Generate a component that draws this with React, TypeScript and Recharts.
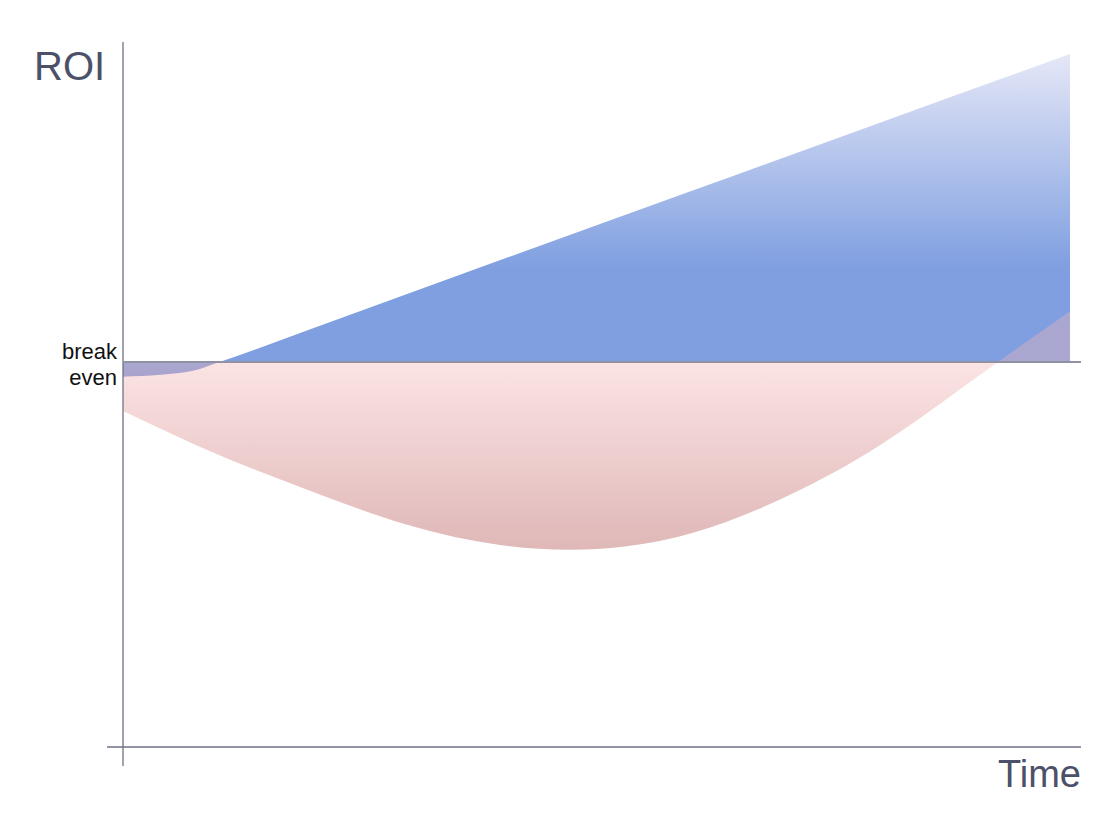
import React from "react";
import { ComposedChart, Area, XAxis, YAxis, ReferenceLine } from "recharts";

// ROI curve of the gain (blue) and of the cost (pink), break even = 0
const gainTime = [0, 4, 7.4, 10.2, 20, 40, 60, 80, 100];
const gainRoi = [-3.8, -3.3, -2.3, 0, 8.7, 26.6, 44.4, 62.2, 80];

const costTime = [0, 10, 20, 30, 40, 50, 60, 70, 80, 90, 100];
const costRoi = [-12.7, -24, -33.7, -42.3, -47.6, -48.6, -44.5, -35, -21.5, -4.2, 13.2];

const gainData = gainTime.map((t, i) => ({ t, roi: gainRoi[i] }));
const costData = costTime.map((t, i) => ({ t, roi: costRoi[i] }));

const X_DOMAIN = [-1.69, 101.16];
const Y_DOMAIN = [-104.94, 83.12];
const AXIS = "#6e7284";
const TITLE = "#4b5169";

const App = () => {
  return (
    <div style={{ position: "absolute", left: 0, top: 0, width: 1118, height: 838, background: "#fff" }}>
      <ComposedChart
        width={1118}
        height={838}
        margin={{ top: 42, right: 37, bottom: 72, left: 107 }}
      >
        <defs>
          <linearGradient id="gainFill" gradientUnits="userSpaceOnUse" x1="0" y1="52" x2="0" y2="268">
            <stop offset="0" stopColor="#e6e8f7" />
            <stop offset="1" stopColor="#7f9fe0" />
          </linearGradient>
          <linearGradient id="costFill" gradientUnits="userSpaceOnUse" x1="0" y1="362" x2="0" y2="551">
            <stop offset="0" stopColor="#f6b4b4" stopOpacity={0.36} />
            <stop offset="1" stopColor="#a63737" stopOpacity={0.36} />
          </linearGradient>
        </defs>
        <XAxis type="number" dataKey="t" domain={X_DOMAIN} hide allowDataOverflow />
        <YAxis type="number" domain={Y_DOMAIN} hide allowDataOverflow />
        <Area
          data={gainData}
          dataKey="roi"
          type="monotone"
          baseValue={0}
          stroke="none"
          fill="url(#gainFill)"
          fillOpacity={1}
          isAnimationActive={false}
        />
        <Area
          data={costData}
          dataKey="roi"
          type="natural"
          baseValue={0}
          stroke="none"
          fill="url(#costFill)"
          fillOpacity={1}
          isAnimationActive={false}
        />
        <ReferenceLine x={0} stroke={AXIS} strokeWidth={1.3} />
        <ReferenceLine y={-100} stroke={AXIS} strokeWidth={1.3} />
        <ReferenceLine
          segment={[{ x: 0, y: 0 }, { x: X_DOMAIN[1], y: 0 }]}
          stroke="#8e92a3"
          strokeWidth={2}
        />
      </ComposedChart>
      <svg
        width={1118}
        height={838}
        style={{ position: "absolute", left: 0, top: 0, pointerEvents: "none" }}
      >
        <text x={34} y={80} fontSize={40} fontFamily="'Liberation Sans', sans-serif" fill={TITLE}>
          ROI
        </text>
        <text x={1081} y={787} fontSize={38} fontFamily="'Liberation Sans', sans-serif" fill={TITLE} textAnchor="end">
          Time
        </text>
        <text x={117} y={359} fontSize={22} fontFamily="'Liberation Sans', sans-serif" fill="#111" textAnchor="end">
          break
        </text>
        <text x={117} y={385} fontSize={22} fontFamily="'Liberation Sans', sans-serif" fill="#111" textAnchor="end">
          even
        </text>
      </svg>
    </div>
  );
};

export default App;
